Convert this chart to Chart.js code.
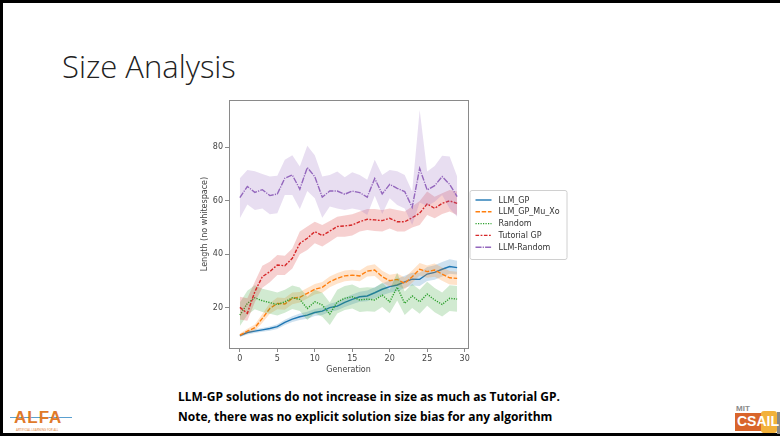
<!DOCTYPE html>
<html>
<head>
<meta charset="utf-8">
<script src="https://cdn.jsdelivr.net/npm/chart.js@4"></script>
<style>
  html, body { margin: 0; padding: 0; background: #fff; }
  body { width: 780px; height: 439px; position: relative; overflow: hidden; font-family: "Open Sans", sans-serif; }
  #frame { position: absolute; left: 0; top: 0; width: 780px; height: 436px; border-top: 3px solid #000; border-left: 3px solid #000; border-bottom: 3px solid #000; box-sizing: border-box; }
  #title { position: absolute; left: 62px; top: 45px; font-family: "Open Sans", sans-serif; font-weight: 300; font-size: 31px; color: #222; white-space: nowrap; transform-origin: left top; transform: scaleX(1.0); }
  #chartWrap { position: absolute; left: 200px; top: 90px; width: 380px; height: 285px; }
  .note { position: absolute; left: 178px; font-family: "Open Sans", sans-serif; font-weight: 700; font-size: 12px; color: #000; white-space: nowrap; transform-origin: left top; }
  #alfa { position: absolute; left: 10px; top: 408px; width: 60px; height: 26px; }
  #alfa .big { position: absolute; left: 4px; top: 0; font-family: "Liberation Sans", sans-serif; font-weight: 700; font-size: 17px; color: #e07a2a; letter-spacing: 1px; }
  #alfa .line { position: absolute; left: 0; top: 9px; width: 62px; height: 1px; background: #5aa0d0; }
  #alfa .small { position: absolute; left: 6px; top: 20px; font-size: 3px; color: #e07a2a; white-space: nowrap; }
  #csail { position: absolute; left: 735px; top: 404px; width: 45px; height: 30px; }
  #csail .mit { position: absolute; left: 1px; top: 0; font-family: "Liberation Sans", sans-serif; font-weight: 700; font-size: 8px; color: #8a8a8a; }
  #csail .box { position: absolute; left: 0; top: 9px; width: 40px; height: 18px; background: #d9652b; }
  #csail .box2 { position: absolute; left: 26px; top: 7px; width: 16px; height: 22px; background: #f2b13a; border-radius: 3px; }
  #csail .txt { position: absolute; left: 2px; top: 9px; font-family: "Liberation Sans", sans-serif; font-weight: 700; font-size: 14px; color: #fff; letter-spacing: 0px; }
  #csail .edge { position: absolute; left: 42px; top: 8px; width: 5px; height: 22px; background: #888; }
</style>
</head>
<body>
<div id="frame"></div>
<div id="title">Size Analysis</div>
<div id="chartWrap"><canvas id="c" width="380" height="285"></canvas></div>
<div class="note" id="n1" style="top:388px;">LLM-GP solutions do not increase in size as much as Tutorial GP.</div>
<div class="note" id="n2" style="top:408px;">Note, there was no explicit solution size bias for any algorithm</div>
<div id="alfa"><div class="line"></div><div class="big">ALFA</div><div class="small">ARTIFICIAL LEARNING FOR ALL</div></div>
<div id="csail"><div class="mit">MIT</div><div class="box"></div><div class="box2"></div><div class="edge"></div><div class="txt">CSAIL</div></div>
<script>
// ---- data ----
const generations = [0,1,2,3,4,5,6,7,8,9,10,11,12,13,14,15,16,17,18,19,20,21,22,23,24,25,26,27,28,29];
const xTickValues = [0,5,10,15,20,25,30];
const yTickValues = [20,40,60,80];
const seriesNames = ["LLM_GP","LLM_GP_Mu_Xo","Random","Tutorial GP","LLM-Random"];

const llmGP    = [9.4,10.6,11.1,11.6,12.1,12.8,14.4,15.6,16.5,17.1,18.1,18.6,19.9,20.5,21.9,23.0,24.0,24.3,25.5,26.8,27.8,28.4,29.6,30.6,30.5,32.5,33.1,34.3,35.3,34.9];
const llmGPLo  = [8.9,9.9,10.4,10.9,11.3,11.9,13.4,14.5,15.3,15.8,16.8,17.2,18.4,18.9,20.2,21.2,22.1,22.3,23.4,24.6,25.5,26.1,27.3,28.2,28.0,29.9,30.4,31.6,32.6,32.3];
const llmGPHi  = [9.9,11.3,11.8,12.3,12.9,13.7,15.4,16.7,17.7,18.4,19.4,20.0,21.4,22.1,23.6,24.8,25.9,26.3,27.6,29.0,30.1,30.7,31.9,33.0,33.0,35.1,35.8,37.0,38.0,37.5];

const muXo     = [9.6,11.1,12.4,15.9,19.6,21.5,21.3,23.4,23.8,25.3,26.8,27.5,29.6,30.9,31.8,32.1,31.8,33.6,34.0,31.5,30.0,30.5,29.0,31.5,34.3,33.4,34.0,32.5,31.1,30.9];
const muXoLo   = [9.0,10.2,11.2,14.3,17.6,19.3,19.1,21.2,21.8,23.3,24.8,25.5,27.6,28.9,29.8,30.1,29.8,31.6,31.8,29.3,27.8,28.3,26.8,29.2,32.0,31.1,31.5,30.0,28.6,28.4];
const muXoHi   = [10.2,12.0,13.6,17.5,21.6,23.7,23.5,25.6,25.8,27.3,28.8,29.5,31.6,32.9,33.8,34.1,33.8,35.6,36.2,33.7,32.2,32.7,31.2,33.8,36.6,35.7,36.5,35.0,33.6,33.4];

const randomS  = [17.1,21.5,23.6,22.5,21.8,21.1,22.1,23.6,23.0,19.6,22.1,20.9,17.5,22.1,23.4,24.0,22.8,23.1,22.8,24.6,22.1,27.6,21.5,24.3,22.1,25.0,22.8,21.1,23.4,23.1];
const randomLo = [13.0,17.2,19.3,18.3,17.6,17.0,18.0,19.4,18.7,15.3,17.8,16.5,13.4,17.7,19.0,19.6,18.3,18.6,18.4,20.2,17.8,22.6,17.2,19.8,17.6,20.6,18.2,16.6,18.7,18.4];
const randomHi = [21.8,26.2,28.3,27.0,26.3,25.6,26.6,28.2,27.5,24.0,26.6,25.5,21.8,26.6,28.0,28.6,27.3,27.6,27.4,29.2,26.6,33.0,26.0,28.8,26.6,29.6,27.3,25.6,28.3,28.0];

const tutorial   = [20.0,17.8,25.9,31.5,33.4,35.9,35.6,38.4,44.0,45.9,48.4,46.9,48.6,50.3,50.5,50.9,52.1,53.0,52.8,52.5,53.4,52.1,52.1,53.6,55.3,58.8,57.1,59.0,59.9,59.0];
const tutorialLo = [15.5,15.0,21.9,27.4,29.4,32.1,32.1,34.6,39.9,41.5,44.0,42.8,44.6,46.5,46.5,46.9,48.4,49.0,48.6,48.4,49.6,48.4,48.4,49.9,50.9,54.6,53.4,55.0,55.9,54.6];
const tutorialHi = [24.0,23.4,29.6,35.6,37.1,39.6,39.4,42.1,48.4,50.3,52.1,50.9,52.4,54.0,54.4,54.9,55.9,56.9,56.9,56.5,57.1,56.5,55.9,57.8,59.9,63.4,61.5,62.8,64.0,63.4];

const llmRandom   = [61.1,65.3,63.1,64.1,61.9,62.5,68.4,69.6,64.3,72.4,69.0,61.3,63.6,63.6,62.4,63.6,63.0,61.3,68.3,62.5,66.1,64.6,63.4,57.5,72.1,64.0,65.6,69.0,66.1,61.5];
const llmRandomLo = [53.4,58.6,56.5,57.1,54.9,55.3,62.1,62.1,56.9,63.6,60.9,53.6,57.8,57.1,56.5,57.1,56.5,54.6,61.8,55.0,60.9,58.4,57.1,50.9,59.3,58.0,59.6,62.1,57.1,54.0];
const llmRandomHi = [68.4,71.5,71.0,70.0,69.0,69.3,75.3,77.0,72.8,80.6,77.0,69.0,69.6,70.9,68.8,70.6,69.6,67.8,75.3,69.6,71.5,71.0,69.6,63.4,94.0,70.9,73.0,76.8,76.5,69.0];

// ---- styling ----
const colors = ["#1f77b4","#ff7f0e","#2ca02c","#d62728","#9467bd"];
const bandColors = ["rgba(31,119,180,0.22)","rgba(255,127,14,0.22)","rgba(44,160,44,0.22)","rgba(214,39,40,0.22)","rgba(148,103,189,0.22)"];
const dashes = [[], [4.5,1.7], [1.2,1.3], [3.6,1.5,1.8,1.5], [6,1.2,1.2,1.2]];

const means = [llmGP, muXo, randomS, tutorial, llmRandom];
const lows  = [llmGPLo, muXoLo, randomLo, tutorialLo, llmRandomLo];
const highs = [llmGPHi, muXoHi, randomHi, tutorialHi, llmRandomHi];
const pts = arr => generations.map((g, i) => ({x: g, y: arr[i]}));

const datasets = [];
seriesNames.forEach((name, s) => {
  const base = (5 - s) * 10;
  datasets.push({ label: name + "_lo", data: pts(lows[s]), borderWidth: 0, pointRadius: 0, fill: false, order: base + 2, borderColor: "rgba(0,0,0,0)" });
  datasets.push({ label: name + "_hi", data: pts(highs[s]), borderWidth: 0, pointRadius: 0, fill: "-1", backgroundColor: bandColors[s], order: base + 1, borderColor: "rgba(0,0,0,0)" });
  datasets.push({ label: name, data: pts(means[s]), borderColor: colors[s], borderWidth: 1.4, borderDash: dashes[s], pointRadius: 0, fill: false, order: base, tension: 0 });
});

const frameAndLegend = {
  id: "frameAndLegend",
  afterDraw(chart) {
    const ctx = chart.ctx, a = chart.chartArea;
    ctx.save();
    ctx.strokeStyle = "#8a8a8a";
    ctx.lineWidth = 1;
    ctx.strokeRect(Math.round(a.left) + 0.5, Math.round(a.top) + 0.5, Math.round(a.right - a.left), Math.round(a.bottom - a.top));
    // legend
    const lx = a.right + 1.5, ly = (a.top + a.bottom) / 2 - 34, lw = 97, lh = 69;
    ctx.fillStyle = "rgba(255,255,255,0.9)";
    ctx.strokeStyle = "#d0d0d0";
    ctx.beginPath();
    if (ctx.roundRect) ctx.roundRect(lx + 0.5, ly + 0.5, lw, lh, 2); else ctx.rect(lx + 0.5, ly + 0.5, lw, lh);
    ctx.fill(); ctx.stroke();
    ctx.font = "8px 'DejaVu Sans', sans-serif";
    ctx.textBaseline = "middle";
    seriesNames.forEach((name, s) => {
      const y = ly + 10 + s * 11.8;
      ctx.strokeStyle = colors[s];
      ctx.lineWidth = 1.4;
      ctx.setLineDash(dashes[s]);
      ctx.beginPath(); ctx.moveTo(lx + 6, y); ctx.lineTo(lx + 22, y); ctx.stroke();
      ctx.setLineDash([]);
      ctx.fillStyle = "#333";
      ctx.fillText(name, lx + 29, y + 0.5);
    });
    ctx.restore();
  }
};

new Chart(document.getElementById("c"), {
  type: "line",
  data: { datasets },
  options: {
    responsive: false,
    animation: false,
    layout: { padding: { left: 0, top: 10, right: 112, bottom: 0 } },
    plugins: { legend: { display: false }, tooltip: { enabled: false } },
    scales: {
      x: {
        type: "linear", min: -1.45, max: 30.45,
        afterBuildTicks: sc => { sc.ticks = xTickValues.map(v => ({ value: v })); },
        afterFit: sc => { sc.height = 27; },
        grid: { display: true, drawOnChartArea: false, drawTicks: true, tickLength: 4, color: "#8a8a8a" },
        border: { display: true, color: "#8a8a8a" },
        ticks: { font: { size: 8, family: "'DejaVu Sans', sans-serif" }, color: "#444", padding: 2, maxRotation: 0 },
        title: { display: true, text: "Generation", font: { size: 8, family: "'DejaVu Sans', sans-serif" }, color: "#444", padding: { top: 1, bottom: 0 } }
      },
      y: {
        type: "linear", min: 4.8, max: 97.7,
        afterBuildTicks: sc => { sc.ticks = yTickValues.map(v => ({ value: v })); },
        afterFit: sc => { sc.width = 29; },
        grid: { display: true, drawOnChartArea: false, drawTicks: true, tickLength: 4, color: "#8a8a8a" },
        border: { display: true, color: "#8a8a8a" },
        ticks: { font: { size: 8, family: "'DejaVu Sans', sans-serif" }, color: "#444", padding: 2 },
        title: { display: true, text: "Length (no whitespace)", font: { size: 8, family: "'DejaVu Sans', sans-serif" }, color: "#444", padding: { top: 0, bottom: 2 } }
      }
    }
  },
  plugins: [frameAndLegend]
});
</script>
</body>
</html>
